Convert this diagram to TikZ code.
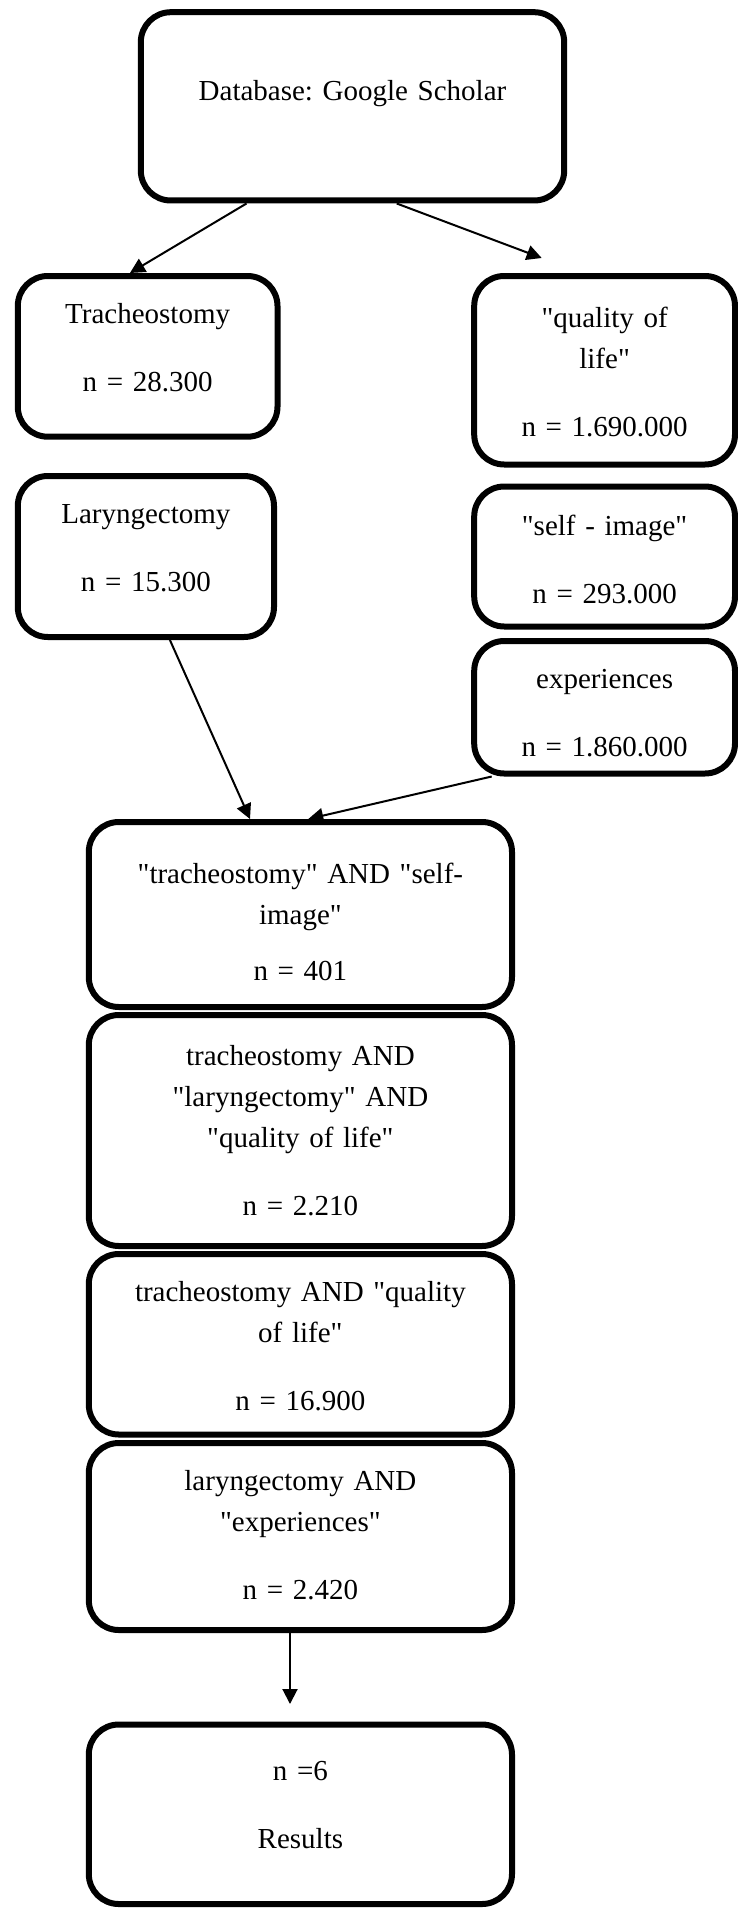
\documentclass[tikz,border=0pt]{standalone}
\usepackage{fontspec}
\setmainfont{Liberation Serif}[Ligatures=TeXOff]
\usetikzlibrary{arrows.meta}
\frenchspacing

\tikzset{
  stepbox/.style={draw, fill=white, line width=6pt, rounded corners=30pt,
    inner sep=0pt, align=center, font=\fontsize{29}{41}\selectfont},
  link/.style={line width=2pt, -{Triangle[length=15pt,width=15pt]}}
}

\begin{document}
\begin{tikzpicture}[x=1pt,y=-1pt]
  \path[use as bounding box, fill=white] (0,0) rectangle (738,1910);

  % search terms
  \node[stepbox, text width=423.4pt, text height=88.5pt, text depth=99.8pt] (db) at (352.5,106.35) {Database: Google Scholar};
  \node[stepbox, text width=259.7pt, text height=47.3pt, text depth=113.4pt] (trach) at (147.65,356.35) {Tracheostomy\\[27pt] n = 28.300};
  \node[stepbox, text width=256.2pt, text height=47.3pt, text depth=113.7pt] (laryn) at (145.9,556.5) {Laryngectomy\\[27pt] n = 15.300};
  \node[stepbox, text width=260.8pt, text height=51pt, text depth=137.5pt] (qol) at (604.6,370.25) {"quality of\\ life"\\[27pt] n = 1.690.000};
  \node[stepbox, text width=260.8pt, text height=48.5pt, text depth=91.5pt] (selfimg) at (604.6,556.5) {"self - image"\\[27pt] n = 293.000};
  \node[stepbox, text width=260.8pt, text height=47.3pt, text depth=85.2pt] (exper) at (604.6,707.25) {experiences\\[27pt] n = 1.860.000};

  % combined queries
  \node[stepbox, text width=423.2pt, text height=61.5pt, text depth=123.5pt] (comb1) at (300.4,914.5) {"tracheostomy" AND "self-\\ image"\\[14.5pt] n = 401};
  \node[stepbox, text width=423.2pt, text height=50pt, text depth=181pt] (comb2) at (300.4,1130.5) {tracheostomy AND\\ "laryngectomy" AND\\ "quality of life"\\[27pt] n = 2.210};
  \node[stepbox, text width=423.2pt, text height=47.7pt, text depth=132.8pt] (comb3) at (300.4,1344.25) {tracheostomy AND "quality\\ of life"\\[27pt] n = 16.900};
  \node[stepbox, text width=423.2pt, text height=47pt, text depth=140pt] (comb4) at (300.4,1536.5) {laryngectomy AND\\ "experiences"\\[27pt] n = 2.420};
  \node[stepbox, text width=423.2pt, text height=55.5pt, text depth=124pt] (res) at (300.4,1814.25) {n =6\\[27pt] Results};

  \coordinate (qoltip) at (541.7,258);
  \coordinate (restip) at (290,1704);

  % arrows
  \draw[link] ([xshift=-106pt]db.south) -- ([xshift=-17.7pt]trach.north);
  \draw[link] ([xshift=44.2pt]db.south) -- (qoltip);
  \draw[link] ([xshift=24pt]laryn.south) -- ([xshift=-50.4pt]comb1.north);
  \draw[link] ([xshift=-112.9pt]exper.south) -- ([xshift=7.9pt]comb1.north);
  \draw[link] ([xshift=-10.4pt]comb4.south) -- (restip);
\end{tikzpicture}
\end{document}
